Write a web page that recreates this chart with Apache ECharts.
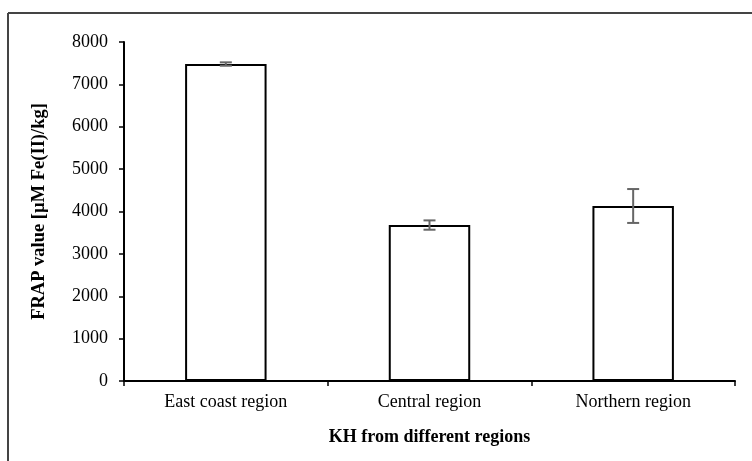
<!DOCTYPE html>
<html><head><meta charset="utf-8">
<script src="https://cdn.jsdelivr.net/npm/echarts@6/dist/echarts.min.js"></script>
<style>html,body{margin:0;padding:0;background:#fff}#c{width:752px;height:461px}</style>
</head><body><div id="c"></div>
<script>
var categories = ['East coast region', 'Central region', 'Northern region'];
var values = [7480, 3680, 4130];
var errors = [40, 110, 400];
var yTicks = [0, 1000, 2000, 3000, 4000, 5000, 6000, 7000, 8000];

var chart = echarts.init(document.getElementById('c'));
var font = 'Liberation Serif, Times New Roman, serif';
chart.setOption({
  animation: false,
  graphic: [
    {type: 'line', shape: {x1: 8, y1: 13, x2: 752, y2: 13}, style: {stroke: '#444', lineWidth: 2}},
    {type: 'line', shape: {x1: 8, y1: 13, x2: 8, y2: 461}, style: {stroke: '#444', lineWidth: 2}}
  ],
  grid: {left: 124, right: 17, top: 42, bottom: 80},
  xAxis: {
    type: 'category', data: categories,
    name: 'KH from different regions', nameLocation: 'middle', nameGap: 47,
    nameTextStyle: {fontFamily: font, fontSize: 18, fontWeight: 'bold', color: '#000'},
    axisLine: {lineStyle: {color: '#000', width: 2}},
    axisTick: {show: true, length: 5, lineStyle: {color: '#000', width: 1.5}},
    axisLabel: {fontFamily: font, fontSize: 18, color: '#000', margin: 12}
  },
  yAxis: {
    type: 'value', min: 0, max: 8000, interval: 1000,
    name: 'FRAP value [µM Fe(II)/kg]', nameLocation: 'middle', nameGap: 75,
    nameTextStyle: {fontFamily: font, fontSize: 18.5, fontWeight: 'bold', color: '#000'},
    axisLine: {show: true, lineStyle: {color: '#000', width: 2}},
    axisTick: {show: true, length: 5, lineStyle: {color: '#000', width: 1.5}},
    splitLine: {show: false},
    axisLabel: {fontFamily: font, fontSize: 18, color: '#000', margin: 16,
      formatter: function (v) { return yTicks.indexOf(v) >= 0 ? String(v) : ''; }}
  },
  series: [
    {type: 'bar', data: values, barWidth: '40%',
     itemStyle: {color: '#fff', borderColor: '#000', borderWidth: 2}},
    {type: 'custom', data: values.map(function (v, i) { return [i, v - errors[i], v + errors[i]]; }),
     renderItem: function (params, api) {
       var lo = api.coord([api.value(0), api.value(1)]);
       var hi = api.coord([api.value(0), api.value(2)]);
       var x = lo[0], hw = 6;
       var st = {stroke: '#666', lineWidth: 2};
       return {type: 'group', children: [
         {type: 'line', shape: {x1: x, y1: lo[1], x2: x, y2: hi[1]}, style: st},
         {type: 'line', shape: {x1: x - hw, y1: lo[1], x2: x + hw, y2: lo[1]}, style: st},
         {type: 'line', shape: {x1: x - hw, y1: hi[1], x2: x + hw, y2: hi[1]}, style: st}
       ]};
     }, z: 5}
  ]
});
</script></body></html>
